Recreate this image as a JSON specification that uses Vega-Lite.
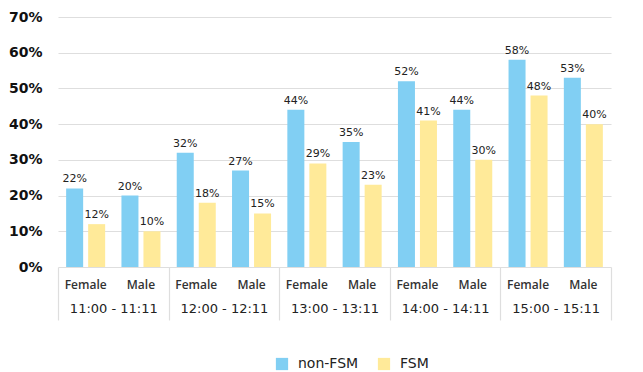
{
  "$schema": "https://vega.github.io/schema/vega-lite/v6.json",
  "autosize": "none",
  "width": 585,
  "height": 250,
  "padding": {"left": 58, "top": 17, "right": 0, "bottom": 105},
  "background": "white",
  "config": {
    "view": {"stroke": null},
    "font": "DejaVu Sans"
  },
  "data": {
    "values": [
      {"time": "11:00 - 11:11", "slot": "11:00 - 11:11 · Female", "group": "non-FSM", "share": 0.22},
      {"time": "11:00 - 11:11", "slot": "11:00 - 11:11 · Female", "group": "FSM", "share": 0.12},
      {"time": "11:00 - 11:11", "slot": "11:00 - 11:11 · Male", "group": "non-FSM", "share": 0.20},
      {"time": "11:00 - 11:11", "slot": "11:00 - 11:11 · Male", "group": "FSM", "share": 0.10},
      {"time": "12:00 - 12:11", "slot": "12:00 - 12:11 · Female", "group": "non-FSM", "share": 0.32},
      {"time": "12:00 - 12:11", "slot": "12:00 - 12:11 · Female", "group": "FSM", "share": 0.18},
      {"time": "12:00 - 12:11", "slot": "12:00 - 12:11 · Male", "group": "non-FSM", "share": 0.27},
      {"time": "12:00 - 12:11", "slot": "12:00 - 12:11 · Male", "group": "FSM", "share": 0.15},
      {"time": "13:00 - 13:11", "slot": "13:00 - 13:11 · Female", "group": "non-FSM", "share": 0.44},
      {"time": "13:00 - 13:11", "slot": "13:00 - 13:11 · Female", "group": "FSM", "share": 0.29},
      {"time": "13:00 - 13:11", "slot": "13:00 - 13:11 · Male", "group": "non-FSM", "share": 0.35},
      {"time": "13:00 - 13:11", "slot": "13:00 - 13:11 · Male", "group": "FSM", "share": 0.23},
      {"time": "14:00 - 14:11", "slot": "14:00 - 14:11 · Female", "group": "non-FSM", "share": 0.52},
      {"time": "14:00 - 14:11", "slot": "14:00 - 14:11 · Female", "group": "FSM", "share": 0.41},
      {"time": "14:00 - 14:11", "slot": "14:00 - 14:11 · Male", "group": "non-FSM", "share": 0.44},
      {"time": "14:00 - 14:11", "slot": "14:00 - 14:11 · Male", "group": "FSM", "share": 0.30},
      {"time": "15:00 - 15:11", "slot": "15:00 - 15:11 · Female", "group": "non-FSM", "share": 0.58},
      {"time": "15:00 - 15:11", "slot": "15:00 - 15:11 · Female", "group": "FSM", "share": 0.48},
      {"time": "15:00 - 15:11", "slot": "15:00 - 15:11 · Male", "group": "non-FSM", "share": 0.53},
      {"time": "15:00 - 15:11", "slot": "15:00 - 15:11 · Male", "group": "FSM", "share": 0.40}
    ]
  },
  "layer": [
    {
      "encoding": {
        "x": {
          "field": "slot",
          "type": "nominal",
          "sort": null,
          "scale": {"range": [0, 553], "paddingInner": 0, "paddingOuter": 0},
          "axis": {
            "title": null,
            "orient": "bottom",
            "domain": false,
            "ticks": false,
            "labelAngle": 0,
            "labelPadding": 12,
            "labelFont": "Open Sans",
            "labelFontSize": 12,
            "labelFontWeight": 600,
            "labelColor": "#333333",
            "labelExpr": "split(datum.label, ' · ')[1]"
          }
        },
        "xOffset": {
          "field": "group",
          "type": "nominal",
          "sort": ["non-FSM", "FSM"],
          "scale": {"paddingInner": 0.227, "paddingOuter": 0.37}
        },
        "y": {
          "field": "share",
          "type": "quantitative",
          "scale": {"domain": [0, 0.7]},
          "axis": {
            "title": null,
            "values": [0, 0.1, 0.2, 0.3, 0.4, 0.5, 0.6, 0.7],
            "format": ".0%",
            "domain": false,
            "ticks": false,
            "labelPadding": 16,
            "labelFontSize": 14,
            "labelFontWeight": "bold",
            "labelColor": "#111111",
            "gridColor": "#dedede",
            "gridWidth": 1.2
          }
        }
      },
      "layer": [
        {
          "mark": {"type": "bar"},
          "encoding": {
            "color": {
              "field": "group",
              "type": "nominal",
              "scale": {"domain": ["non-FSM", "FSM"], "range": ["#81cff3", "#ffea99"]},
              "legend": {
                "title": null,
                "orient": "none",
                "legendX": 217,
                "legendY": 340,
                "direction": "horizontal",
                "symbolType": "square",
                "symbolSize": 150,
                "symbolStrokeWidth": 0,
                "labelFontSize": 14,
                "labelColor": "#222222",
                "labelOffset": 9,
                "columnPadding": 18
              }
            }
          }
        },
        {
          "mark": {"type": "text", "baseline": "alphabetic", "dy": -6, "fontSize": 11, "color": "#222222"},
          "encoding": {
            "text": {"field": "share", "type": "quantitative", "format": ".0%"}
          }
        }
      ]
    },
    {
      "mark": {"type": "bar", "opacity": 0},
      "encoding": {
        "x": {
          "field": "time",
          "type": "nominal",
          "sort": null,
          "scale": {"range": [0, 553], "paddingInner": 0, "paddingOuter": 0},
          "axis": {
            "title": null,
            "orient": "bottom",
            "domain": false,
            "ticks": true,
            "tickBand": "extent",
            "tickSize": 53,
            "tickColor": "#dedede",
            "tickWidth": 1.2,
            "labelAngle": 0,
            "labelPadding": -18,
            "labelBaseline": "top",
            "labelFontSize": 13,
            "labelColor": "#222222"
          }
        }
      }
    }
  ],
  "resolve": {"scale": {"x": "independent"}, "axis": {"x": "independent"}}
}
